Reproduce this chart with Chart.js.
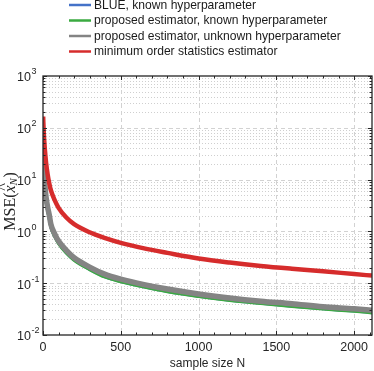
<!DOCTYPE html>
<html>
<head>
<meta charset="utf-8">
<script src="https://cdn.jsdelivr.net/npm/chart.js@4.4.0/dist/chart.umd.min.js"></script>
<style>
  html, body { margin:0; padding:0; background:#fff; }
  #wrap { width:374px; height:371px; position:relative; }
</style>
</head>
<body>
<div id="wrap"><canvas id="chart"></canvas></div>
<script>
// datos (MSE vs N, eje y logaritmico)
const sampleSize = [1, 2, 3, 5, 7, 10, 15, 20, 30, 40, 50, 75, 100, 150, 200, 300, 400, 500, 650, 800, 1000, 1200, 1400, 1600, 1800, 2000, 2115];
const mseBlue  = [82, 46, 32, 18.5, 12.8, 8.7, 5.6, 4.05, 2.62, 1.87, 1.28, 0.82, 0.6, 0.39, 0.285, 0.187, 0.134, 0.109, 0.086, 0.07, 0.0565, 0.0475, 0.0413, 0.0363, 0.0323, 0.0293, 0.0273];
const mseGreen = [80, 45, 31, 18, 12.5, 8.5, 5.5, 4.0, 2.6, 1.85, 1.27, 0.81, 0.59, 0.385, 0.28, 0.185, 0.132, 0.108, 0.085, 0.069, 0.056, 0.047, 0.041, 0.036, 0.032, 0.029, 0.027];
const mseGray  = [90, 50, 35, 20, 14, 9.5, 6.2, 4.5, 2.9, 2.1, 1.4, 0.9, 0.65, 0.43, 0.31, 0.205, 0.148, 0.12, 0.094, 0.077, 0.062, 0.052, 0.045, 0.040, 0.035, 0.032, 0.030];
const mseRed   = [165, 130, 110, 80, 62, 45, 30, 21, 12.5, 8.5, 6.3, 4.0, 2.85, 1.85, 1.38, 0.96, 0.74, 0.6, 0.47, 0.385, 0.30, 0.25, 0.215, 0.19, 0.17, 0.15, 0.14];

const legendLabels = [
  'BLUE, known hyperparameter',
  'proposed estimator, known hyperparameter',
  'proposed estimator, unknown hyperparameter',
  'minimum order statistics estimator'
];
const seriesColors = ['rgb(68,114,200)', 'rgb(58,170,64)', 'rgb(132,132,132)', 'rgb(214,44,44)'];
const xTickValues = [0, 500, 1000, 1500, 2000];
const yDecades = [-2, -1, 0, 1, 2, 3];

const FONT = "'Liberation Sans', Arial, Helvetica, sans-serif";
const INK = '#262626';

const toXY = vals => sampleSize.map((n, i) => ({x: n, y: vals[i]}));

// grid, ejes tipo caja, etiquetas y leyenda
const frame = {
  id: 'frame',
  beforeDatasetsDraw(chart){
    const {ctx, chartArea:a, scales:{x, y}} = chart;
    ctx.save();
    ctx.lineWidth = 1;
    ctx.strokeStyle = '#cfcfcf';
    ctx.setLineDash([1, 2]);
    for (const d of yDecades.slice(0, -1)) {
      for (let m = 2; m <= 9; m++) {
        const py = Math.round(y.getPixelForValue(m * Math.pow(10, d))) + 0.5;
        ctx.beginPath(); ctx.moveTo(a.left, py); ctx.lineTo(a.right, py); ctx.stroke();
      }
    }
    ctx.strokeStyle = '#d2d2d2';
    ctx.setLineDash([4, 3]);
    for (const d of yDecades.slice(1, -1)) {
      const py = Math.round(y.getPixelForValue(Math.pow(10, d))) + 0.5;
      ctx.beginPath(); ctx.moveTo(a.left, py); ctx.lineTo(a.right, py); ctx.stroke();
    }
    for (const v of xTickValues.slice(1)) {
      const px = Math.round(x.getPixelForValue(v)) + 0.5;
      ctx.beginPath(); ctx.moveTo(px, a.top); ctx.lineTo(px, a.bottom); ctx.stroke();
    }
    ctx.restore();
  },
  afterDatasetsDraw(chart){
    const {ctx, chartArea:a, scales:{x, y}} = chart;
    ctx.save();
    ctx.strokeStyle = INK;
    ctx.lineWidth = 1.3;
    ctx.strokeRect(a.left, a.top, a.right - a.left, a.bottom - a.top);
    ctx.lineWidth = 1;
    const tick = (x1, y1, x2, y2) => { ctx.beginPath(); ctx.moveTo(x1, y1); ctx.lineTo(x2, y2); ctx.stroke(); };
    // x ticks (mayores cada 500, menores cada 100)
    for (let v = 0; v <= 2100; v += 100) {
      const px = Math.round(x.getPixelForValue(v)) + 0.5;
      const len = v % 500 === 0 ? 4 : 2.5;
      tick(px, a.bottom, px, a.bottom - len);
      tick(px, a.top, px, a.top + len);
    }
    // y ticks
    for (const d of yDecades) {
      for (let m = 1; m <= 9; m++) {
        if (d === 3 && m > 1) break;
        const py = Math.round(y.getPixelForValue(m * Math.pow(10, d))) + 0.5;
        const len = m === 1 ? 4 : 2.5;
        tick(a.left, py, a.left + len, py);
        tick(a.right, py, a.right - len, py);
      }
    }
    // etiquetas y: 10^d
    ctx.fillStyle = INK;
    ctx.textBaseline = 'middle';
    ctx.textAlign = 'left';
    for (const d of yDecades) {
      const py = y.getPixelForValue(Math.pow(10, d));
      ctx.font = '12.5px ' + FONT;
      ctx.fillText('10', 17, py + 2);
      const w = ctx.measureText('10').width;
      ctx.font = '9px ' + FONT;
      ctx.fillText(String(d), 17 + w + 0.5, py - 4);
    }
    // titulo y: MSE(x^_N)
    ctx.save();
    ctx.translate(11, (a.top + a.bottom) / 2 - 4);
    ctx.rotate(-Math.PI / 2);
    const serif = "'Liberation Serif', 'Times New Roman', serif";
    const parts = [
      {t:'MSE(', f:'16px ' + serif, dy:0},
      {t:'x', f:'italic 16px ' + serif, dy:0, hat:true},
      {t:'N', f:'italic 11px ' + serif, dy:3.5},
      {t:')', f:'16px ' + serif, dy:0}
    ];
    let total = 0;
    for (const p of parts) { ctx.font = p.f; p.w = ctx.measureText(p.t).width; total += p.w + (p.t === 'N' ? 0.5 : 0); }
    let cx = -total / 2;
    ctx.textAlign = 'left';
    for (const p of parts) {
      ctx.font = p.f;
      ctx.fillText(p.t, cx, p.dy);
      if (p.hat) ctx.fillText('^', cx + 1.5, -7);
      cx += p.w + (p.t === 'N' ? 0.5 : 0);
    }
    ctx.restore();
    // leyenda
    const rows = [5, 20.5, 36, 51.5];
    ctx.font = '12.1px ' + FONT;
    ctx.textBaseline = 'middle';
    legendLabels.forEach((lab, i) => {
      ctx.strokeStyle = seriesColors[i];
      ctx.lineWidth = 2.5;
      tick(69, rows[i], 91, rows[i]);
      ctx.fillStyle = '#1a1a1a';
      ctx.fillText(lab, 94, rows[i] + 0.5);
    });
    ctx.restore();
  }
};

const mk = (i, vals, width, order) => ({
  label: legendLabels[i], data: toXY(vals), borderColor: seriesColors[i],
  borderWidth: width, pointRadius: 0, cubicInterpolationMode: 'monotone', fill: false, order
});

new Chart(document.getElementById('chart'), {
  type: 'line',
  data: { datasets: [
    mk(0, mseBlue, 3.5, 4),
    mk(1, mseGreen, 3.5, 3),
    mk(2, mseGray, 5.5, 2),
    mk(3, mseRed, 4.5, 1)
  ]},
  options: {
    responsive: true, maintainAspectRatio: false, animation: false, devicePixelRatio: 1,
    layout: { padding: { top: 76, right: 2, left: 0, bottom: 0 } },
    plugins: { legend: { display: false }, tooltip: { enabled: false } },
    scales: {
      x: {
        type: 'linear', min: 0, max: 2115,
        afterBuildTicks: s => { s.ticks = xTickValues.map(v => ({value: v})); },
        afterFit: s => { s.height = 36; },
        grid: { display: false, drawTicks: false }, border: { display: false },
        ticks: { font: { size: 12.5, family: FONT }, color: INK, padding: 5, maxRotation: 0,
                 callback: v => String(v) },
        title: { display: true, text: 'sample size N', font: { size: 12, family: FONT }, color: INK, padding: 0 }
      },
      y: {
        type: 'logarithmic', min: 0.01, max: 1000,
        afterFit: s => { s.width = 43; },
        grid: { display: false, drawTicks: false }, border: { display: false },
        ticks: { display: false }
      }
    }
  },
  plugins: [frame]
});
</script>
</body>
</html>
